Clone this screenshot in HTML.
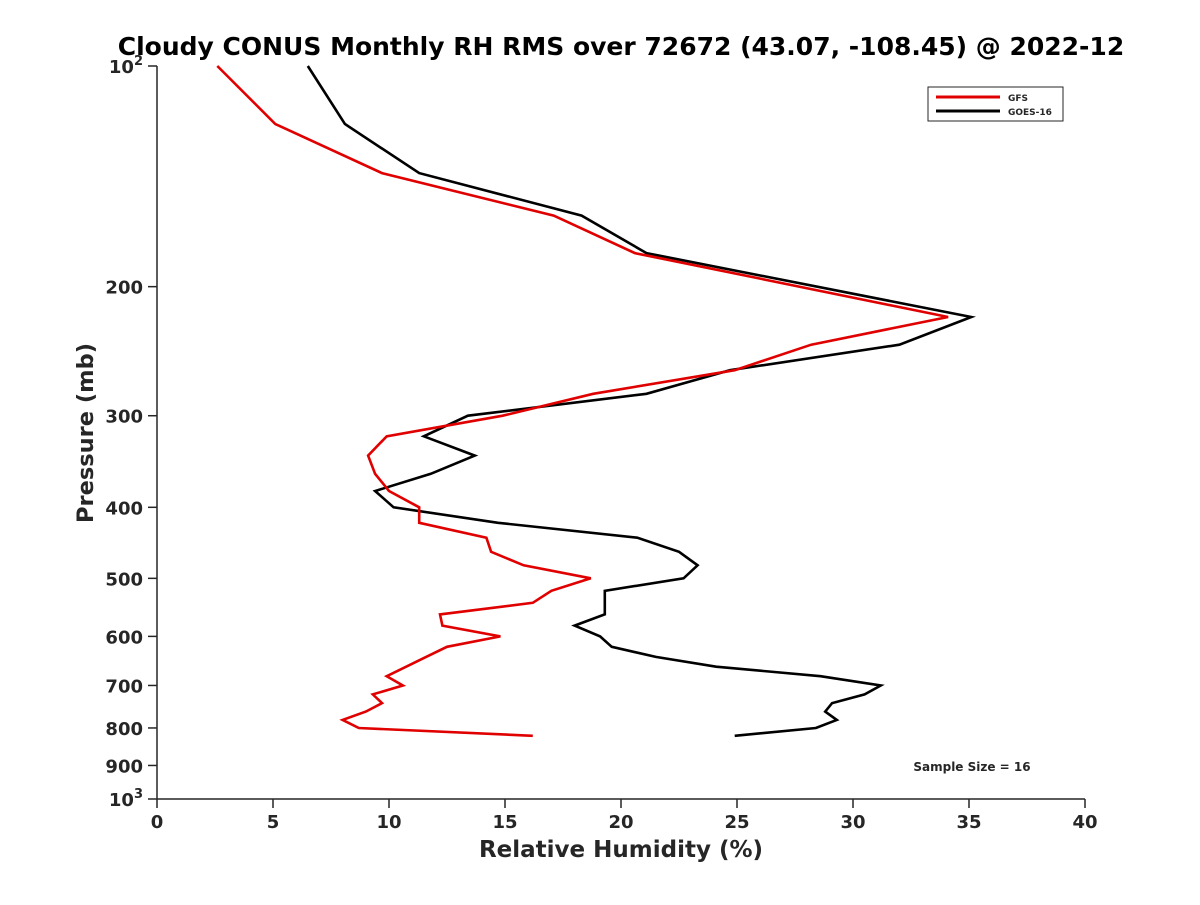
<!DOCTYPE html>
<html><head><meta charset="utf-8"><style>
body{margin:0;background:#fff}
svg text{font-family:"DejaVu Sans","Liberation Sans",sans-serif;font-weight:bold;fill:#262626}
</style></head><body>
<svg id="c" width="1200" height="900" xmlns="http://www.w3.org/2000/svg">
<rect width="1200" height="900" fill="#fff"/>
<text x="621" y="55" font-size="25" text-anchor="middle" style="fill:#000">Cloudy CONUS Monthly RH RMS over 72672 (43.07, -108.45) @ 2022-12</text>
<g id="axes"></g>
<g id="series"></g>
<g>
<rect x="928" y="87" width="135" height="34" fill="#fff" stroke="#262626" stroke-width="1"/>
<line x1="936" y1="97" x2="1000" y2="97" stroke="#e00000" stroke-width="3"/>
<text x="1008" y="101" font-size="9">GFS</text>
<line x1="936" y1="111" x2="1000" y2="111" stroke="#000" stroke-width="3"/>
<text x="1008" y="115" font-size="9">GOES-16</text>
</g>
<text x="972" y="771" font-size="12" text-anchor="middle">Sample Size = 16</text>
<text x="621" y="857" font-size="23" text-anchor="middle">Relative Humidity (%)</text>
<text transform="translate(93,433) rotate(-90)" font-size="22.5" text-anchor="middle">Pressure (mb)</text>
</svg>
<script>
const pressures=[100,120,140,160,180,220,240,260,280,300,320,340,360,380,400,420,440,460,480,500,520,540,560,580,600,620,640,680,700,720,740,760,780,800,820];
const gfsRH=[2.6,5.1,9.7,17.1,20.6,34.1,28.2,24.9,18.8,14.9,9.9,9.1,9.4,10.0,11.3,11.3,14.2,14.4,15.8,18.7,17.0,16.2,12.2,12.3,14.8,12.5,11.6,9.9,10.6,9.3,9.7,9.0,8.0,8.7,16.2];
const goesPressures=[100,120,140,160,180,220,240,260,280,300,320,340,360,380,400,420,440,460,480,500,520,540,560,580,600,620,640,660,680,700,720,740,760,780,800,820];
const goesRH=[6.5,8.1,11.3,18.3,21.1,35.1,32.0,24.7,21.1,13.4,11.5,13.7,11.8,9.4,10.2,14.7,20.7,22.5,23.3,22.7,19.3,19.3,19.3,18.0,19.1,19.6,21.5,24.1,28.6,31.2,30.5,29.1,28.8,29.3,28.4,24.9];
const xTicks=[0,5,10,15,20,25,30,35,40];
const yTicks=[100,200,300,400,500,600,700,800,900,1000];
const NS="http://www.w3.org/2000/svg";
const X0=157,X1=1085,Y0=66,Y1=799;
function xs(v){return X0+(v-0)/40*(X1-X0);}
function ys(p){return Y0+(Math.log10(p)-2)*(Y1-Y0);}
function mk(t,a,parent){const e=document.createElementNS(NS,t);for(const k in a)e.setAttribute(k,a[k]);parent.appendChild(e);return e;}
const ax=document.getElementById('axes');
let l=mk('line',{x1:X0,y1:Y0,x2:X0,y2:Y1,stroke:'#262626','stroke-width':1.5},ax);


l=mk('line',{x1:X0,y1:Y1,x2:X1,y2:Y1,stroke:'#262626','stroke-width':1.5},ax);


xTicks.forEach(v=>{
  mk('line',{x1:xs(v),y1:Y1,x2:xs(v),y2:Y1+9,stroke:'#262626','stroke-width':1.5},ax);
  const t=mk('text',{x:xs(v),y:828,'font-size':18,'text-anchor':'middle'},ax);
  t.textContent=v;
  
  
});
yTicks.forEach(p=>{
  const y=ys(p);
  mk('line',{x1:X0-9,y1:y,x2:X0,y2:y,stroke:'#262626','stroke-width':1.5},ax);
  const t=mk('text',{x:X0-14,y:y+7,'font-size':18,'text-anchor':'end'},ax);
  if(p===100||p===1000){
    t.textContent='10';
    const s=mk('tspan',{dy:-8,'font-size':13},t);s.textContent=p===100?'2':'3';
  } else t.textContent=p;
  
  
});
const sg=document.getElementById('series');
function line(rh,pr,col,name){
  const pts=rh.map((v,i)=>xs(v).toFixed(1)+','+ys(pr[i]).toFixed(1)).join(' ');
  const e=mk('polyline',{points:pts,fill:'none',stroke:col,'stroke-width':2.6,'stroke-linejoin':'miter'},sg);
  
  
}
line(goesRH,goesPressures,'#000','goes16-line');
line(gfsRH,pressures,'#e00000','gfs-line');
</script>
</body></html>
